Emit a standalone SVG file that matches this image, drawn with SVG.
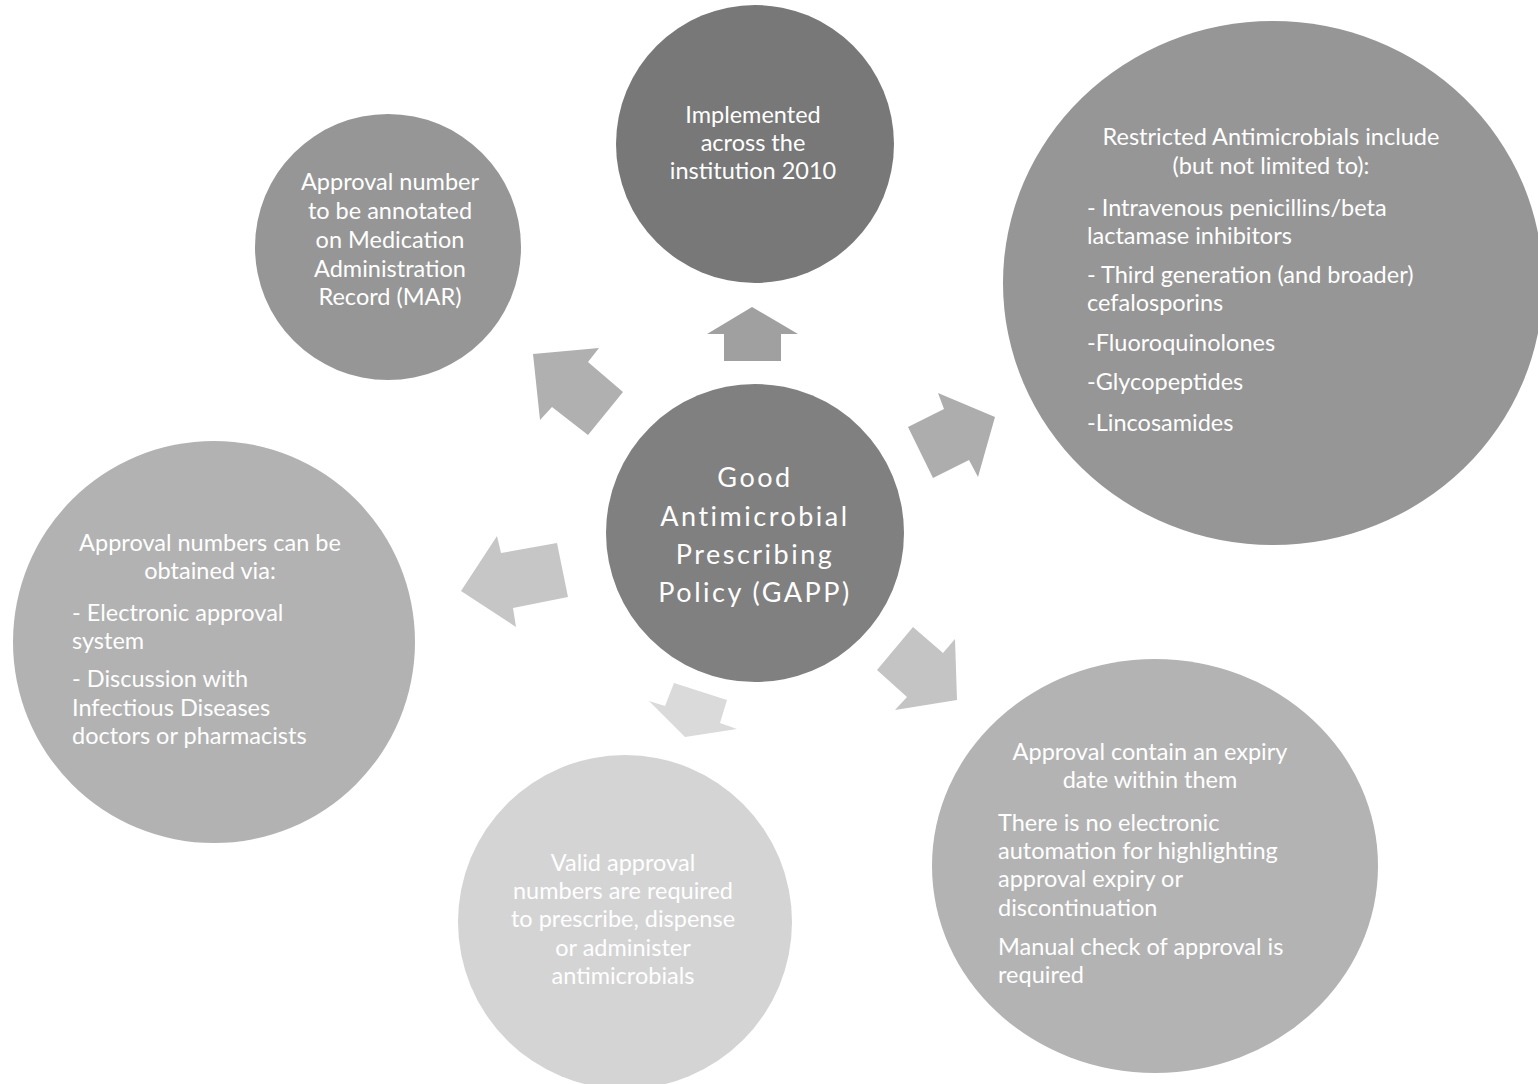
<svg xmlns="http://www.w3.org/2000/svg" width="1538" height="1084" viewBox="0 0 1538 1084">
<style>
text{font-family:Lato,"Open Sans","Liberation Sans",sans-serif;fill:#ffffff;font-size:23.5px}
.c{text-anchor:middle}
.big{font-size:27px;letter-spacing:2.5px}
</style>
<rect width="1538" height="1084" fill="#ffffff"/>
<g id="connectors">
<polygon points="752,307 798,334 781,334 781,361 724,361 724,334 707,334" fill="#a0a0a0"/>
<polygon points="533,354 599,348 588,362 623,392 588,435 552,407 540,420" fill="#b0b0b0"/>
<polygon points="938,393 995,417 978,477 969,460 933,478 908,427 944,409" fill="#adadad"/>
<polygon points="461,591 497,536 501,553 557,543 568,597 513,608 516,627" fill="#c6c6c6"/>
<polygon points="913,627 943,653 955,639 957,700 895,710 907,697 877,670" fill="#c4c4c4"/>
<polygon points="674,683 727,700 720,723 737,729 685,737 649,701 665,706" fill="#dadada"/>
</g>
<g id="node-implemented">
<circle cx="755" cy="144" r="139" fill="#787878"/>
<text class="c" x="753" y="123">Implemented</text>
<text class="c" x="753" y="151">across the</text>
<text class="c" x="753" y="179">institution 2010</text>
</g>
<g id="node-mar">
<circle cx="388" cy="247" r="133" fill="#969696"/>
<text class="c" x="390" y="190">Approval number</text>
<text class="c" x="390" y="219">to be annotated</text>
<text class="c" x="390" y="248">on Medication</text>
<text class="c" x="390" y="277">Administration</text>
<text class="c" x="390" y="305">Record (MAR)</text>
</g>
<g id="node-restricted">
<ellipse cx="1273" cy="283" rx="270" ry="262" fill="#969696"/>
<text class="c" x="1271" y="145">Restricted Antimicrobials include</text>
<text class="c" x="1271" y="174">(but not limited to):</text>
<text x="1087" y="216">- Intravenous penicillins/beta</text>
<text x="1087" y="244">lactamase inhibitors</text>
<text x="1087" y="283">- Third generation (and broader)</text>
<text x="1087" y="311">cefalosporins</text>
<text x="1087" y="351">-Fluoroquinolones</text>
<text x="1087" y="390">-Glycopeptides</text>
<text x="1087" y="431">-Lincosamides</text>
</g>
<g id="node-gapp">
<circle cx="755" cy="533" r="149" fill="#808080"/>
<text class="c big" x="755" y="487">Good</text>
<text class="c big" x="755" y="526">Antimicrobial</text>
<text class="c big" x="755" y="564">Prescribing</text>
<text class="c big" x="755" y="602">Policy (GAPP)</text>
</g>
<g id="node-obtained">
<circle cx="214" cy="642" r="201" fill="#b2b2b2"/>
<text class="c" x="210" y="551">Approval numbers can be</text>
<text class="c" x="210" y="579">obtained via:</text>
<text x="72" y="621">- Electronic approval</text>
<text x="72" y="649">system</text>
<text x="72" y="687">- Discussion with</text>
<text x="72" y="716">Infectious Diseases</text>
<text x="72" y="744">doctors or pharmacists</text>
</g>
<g id="node-valid">
<circle cx="625" cy="922" r="167" fill="#d4d4d4"/>
<text class="c" x="623" y="871">Valid approval</text>
<text class="c" x="623" y="899">numbers are required</text>
<text class="c" x="623" y="927">to prescribe, dispense</text>
<text class="c" x="623" y="956">or administer</text>
<text class="c" x="623" y="984">antimicrobials</text>
</g>
<g id="node-expiry">
<ellipse cx="1155" cy="866" rx="223" ry="207" fill="#b3b3b3"/>
<text class="c" x="1150" y="760">Approval contain an expiry</text>
<text class="c" x="1150" y="788">date within them</text>
<text x="998" y="831">There is no electronic</text>
<text x="998" y="859">automation for highlighting</text>
<text x="998" y="887">approval expiry or</text>
<text x="998" y="916">discontinuation</text>
<text x="998" y="955">Manual check of approval is</text>
<text x="998" y="983">required</text>
</g>
</svg>
